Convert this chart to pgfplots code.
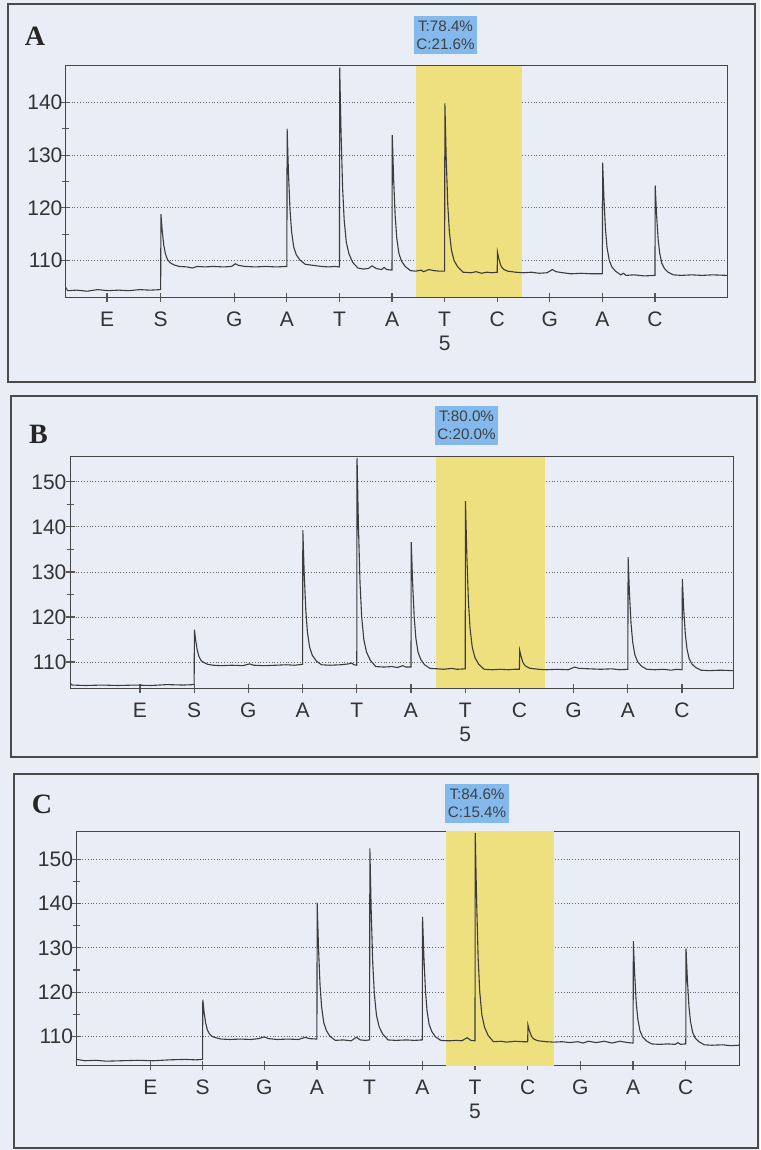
\documentclass[border=0pt]{standalone}
\usepackage{fontspec}
\setmainfont{Liberation Sans}
\newfontfamily\panelfont{Liberation Serif}
\usepackage{pgfplots}
\pgfplotsset{compat=1.18}

\definecolor{pagebg}{HTML}{E9EDF6}
\definecolor{boxline}{HTML}{4A4A4A}
\definecolor{hlyellow}{HTML}{EFE07F}
\definecolor{tagblue}{HTML}{83B9EC}
\definecolor{trace}{HTML}{3C3C3C}

\pgfplotsset{
  pyro/.style={
    scale only axis,
    axis line style={draw=gray!55!black, line width=0.5pt},
    tick align=center, xtick pos=bottom, ytick pos=left,
    major tick length=4.5pt, minor tick length=3.5pt,
    every tick/.style={draw=black!65, line width=0.6pt},
    minor y tick num=1,
    ymajorgrids, grid style={densely dotted, gray!80!black, line width=0.45pt},
    xticklabels={E,S,G,A,T,A,{T\\5},C,G,A,C},
    xticklabel style={align=center, yshift=-1.5pt},
    yticklabel style={xshift=4pt},
    tick label style={font=\fontsize{10.5}{12}\selectfont, text=black!80},
    /pgf/number format/assume math mode=true,
  },
  sig/.style={trace, line width=0.55pt, mark=none},
}

\begin{document}
\begin{tikzpicture}
\fill[pagebg] (0,0) rectangle (380pt,-575pt);
\draw[boxline, line width=1pt] (4pt,-2pt) rectangle (377.5pt,-191pt);
\draw[boxline, line width=1pt] (5.5pt,-198pt) rectangle (378.5pt,-378.5pt);
\draw[boxline, line width=1pt] (7pt,-387pt) rectangle (379pt,-574pt);

% ---------------- panel A ----------------
\begin{axis}[pyro, at={(33pt,-33pt)}, anchor=north west,
  width=330.5pt, height=115.5pt,
  xmin=-0.2, xmax=12.37, ymin=103.1, ymax=146.9,
  xtick={0.58,1.6,3,4,5,6,7,8,9,10,11},
  ytick={110,120,130,140}]
\addplot[fill=hlyellow, draw=none] coordinates {(6.46,103.1) (8.48,103.1) (8.48,146.9) (6.46,146.9)} -- cycle;
\addplot[sig] coordinates {
 (-0.2,104.9) (-0.17,104.3) (0.0,104.4) (0.2,104.2) (0.4,104.5) (0.6,104.3) (0.8,104.4) (1.0,104.3) (1.2,104.5) (1.4,104.4) (1.6,104.5)
 (1.605,118.8) (1.63,115.6) (1.66,112.9) (1.69,111.3) (1.73,110.2) (1.78,109.6) (1.85,109.2) (1.95,108.9)
 (2.1,108.8) (2.2,108.6) (2.3,108.9) (2.45,108.8) (2.6,108.9) (2.8,108.8) (2.95,108.9) (3.02,109.4) (3.08,109.1) (3.2,108.9) (3.4,108.8) (3.6,108.9) (3.8,108.8) (4.0,108.9)
 (4.005,135.0) (4.03,126.8) (4.06,119.6) (4.09,115.5) (4.13,112.6) (4.18,111.1) (4.25,110.1) (4.35,109.3)
 (4.5,109.1) (4.65,108.9) (4.8,108.8) (4.9,108.9) (5.0,108.8)
 (5.005,146.6) (5.03,134.4) (5.06,123.8) (5.09,117.7) (5.13,113.5) (5.18,111.3) (5.25,109.7) (5.35,108.6)
 (5.45,108.4) (5.55,108.5) (5.62,109.0) (5.7,108.5) (5.8,108.3) (5.85,108.7) (5.9,108.3) (6.0,108.2)
 (6.005,133.8) (6.03,125.6) (6.06,118.4) (6.09,114.3) (6.13,111.4) (6.18,109.9) (6.25,108.9) (6.35,108.1)
 (6.45,108.0) (6.55,108.2) (6.6,107.9) (6.7,108.3) (6.8,108.1) (6.9,108.0) (7.0,108.0)
 (7.005,139.8) (7.03,129.6) (7.06,120.6) (7.09,115.5) (7.13,112.0) (7.18,110.0) (7.25,108.8) (7.35,107.8)
 (7.5,107.7) (7.6,107.9) (7.7,107.6) (7.8,107.8) (7.9,107.7) (8.0,107.8)
 (8.005,111.6) (8.03,110.4) (8.06,109.3) (8.09,108.7) (8.13,108.3) (8.2,108.0) (8.35,107.8)
 (8.5,107.7) (8.65,107.8) (8.8,107.6) (8.95,107.7) (9.05,108.3) (9.12,107.9) (9.25,107.7) (9.4,107.5) (9.6,107.6) (9.8,107.5) (10.0,107.5)
 (10.005,128.6) (10.03,121.8) (10.06,115.8) (10.09,112.4) (10.13,110.1) (10.18,108.8) (10.25,108.0) (10.35,107.3)
 (10.4,107.6) (10.45,107.2) (10.6,107.3) (10.8,107.1) (11.0,107.2)
 (11.005,124.2) (11.03,118.8) (11.06,114.1) (11.09,111.4) (11.13,109.5) (11.18,108.5) (11.25,107.8) (11.35,107.3)
 (11.5,107.2) (11.7,107.3) (11.9,107.2) (12.1,107.3) (12.37,107.2)
};
\end{axis}

% ---------------- panel B ----------------
\begin{axis}[pyro, at={(35pt,-228.3pt)}, anchor=north west,
  width=331.5pt, height=115.8pt,
  xmin=-0.29, xmax=11.94, ymin=104.2, ymax=155.6,
  xtick={1,2,3,4,5,6,7,8,9,10,11},
  ytick={110,120,130,140,150}]
\addplot[fill=hlyellow, draw=none] coordinates {(6.46,104.2) (8.48,104.2) (8.48,155.6) (6.46,155.6)} -- cycle;
\addplot[sig] coordinates {
 (-0.29,105.3) (-0.25,104.9) (0,104.8) (0.3,104.9) (0.6,104.8) (0.9,104.9) (1.2,104.8) (1.5,105.0) (1.8,104.9) (2.0,105.0)
 (2.005,117.2) (2.03,114.7) (2.06,112.5) (2.09,111.2) (2.13,110.3) (2.18,109.9) (2.25,109.5) (2.35,109.3)
 (2.5,109.2) (2.7,109.3) (2.9,109.2) (3.02,109.6) (3.1,109.3) (3.3,109.2) (3.5,109.3) (3.7,109.4) (3.85,109.3) (4.0,109.5)
 (4.005,139.3) (4.03,129.7) (4.06,121.4) (4.09,116.6) (4.13,113.3) (4.18,111.5) (4.25,110.3) (4.35,109.4)
 (4.5,109.3) (4.7,109.4) (4.85,109.6) (4.9,109.8) (4.95,109.4) (5.0,109.3)
 (5.005,155.3) (5.03,140.5) (5.06,127.5) (5.09,120.1) (5.13,115.0) (5.18,112.2) (5.25,110.4) (5.35,109.0)
 (5.5,108.9) (5.65,109.0) (5.75,108.8) (5.85,109.2) (5.9,108.9) (6.0,108.9)
 (6.005,136.6) (6.03,127.6) (6.06,119.8) (6.09,115.3) (6.13,112.2) (6.18,110.6) (6.25,109.4) (6.35,108.6)
 (6.5,108.5) (6.6,108.4) (6.75,108.6) (6.85,108.4) (7.0,108.5)
 (7.005,145.7) (7.03,133.8) (7.06,123.3) (7.09,117.4) (7.13,113.3) (7.18,111.0) (7.25,109.5) (7.35,108.4)
 (7.5,108.3) (7.65,108.4) (7.8,108.3) (7.9,108.4) (8.0,108.4)
 (8.005,112.6) (8.03,111.3) (8.06,110.1) (8.09,109.4) (8.13,109.0) (8.2,108.6) (8.35,108.4)
 (8.5,108.3) (8.7,108.4) (8.9,108.3) (9.02,108.9) (9.1,108.6) (9.3,108.5) (9.5,108.4) (9.7,108.5) (9.85,108.3) (10.0,108.4)
 (10.005,133.3) (10.03,125.3) (10.06,118.4) (10.09,114.4) (10.13,111.6) (10.18,110.1) (10.25,109.1) (10.35,108.4)
 (10.5,108.3) (10.65,108.4) (10.8,108.2) (10.9,108.4) (11.0,108.3)
 (11.005,128.4) (11.03,121.9) (11.06,116.3) (11.09,113.0) (11.13,110.8) (11.18,109.6) (11.25,108.8) (11.35,108.2)
 (11.5,108.1) (11.7,108.2) (11.94,108.1)
};
\end{axis}

% ---------------- panel C ----------------
\begin{axis}[pyro, at={(38.3pt,-415.5pt)}, anchor=north west,
  width=331.2pt, height=117.3pt,
  xmin=-0.56, xmax=12.01, ymin=103.4, ymax=156.4,
  xtick={0.84,1.83,3,4,5,6,7,8,9,10,11},
  ytick={110,120,130,140,150}]
\addplot[fill=hlyellow, draw=none] coordinates {(6.45,103.4) (8.5,103.4) (8.5,156.4) (6.45,156.4)} -- cycle;
\addplot[sig] coordinates {
 (-0.56,104.8) (-0.4,104.5) (-0.2,104.6) (0,104.4) (0.3,104.5) (0.6,104.6) (0.9,104.5) (1.2,104.7) (1.5,104.8) (1.7,104.7) (1.83,104.8)
 (1.835,118.3) (1.86,115.4) (1.89,113.0) (1.92,111.5) (1.96,110.6) (2.01,110.0) (2.08,109.7) (2.18,109.4)
 (2.35,109.3) (2.55,109.4) (2.75,109.3) (2.9,109.5) (3.0,109.9) (3.08,109.5) (3.25,109.3) (3.45,109.4) (3.65,109.3) (3.78,109.8) (3.85,109.5) (4.0,109.4)
 (4.005,140.2) (4.03,130.2) (4.06,121.5) (4.09,116.6) (4.13,113.1) (4.18,111.3) (4.25,110.0) (4.35,109.1)
 (4.5,109.2) (4.65,109.0) (4.75,109.8) (4.82,109.2) (4.92,109.1) (5.0,109.2)
 (5.005,152.5) (5.03,138.6) (5.06,126.5) (5.09,119.6) (5.13,114.8) (5.18,112.2) (5.25,110.5) (5.35,109.2)
 (5.5,109.1) (5.7,109.2) (5.85,109.1) (6.0,109.2)
 (6.005,137.0) (6.03,128.1) (6.06,120.3) (6.09,115.8) (6.13,112.7) (6.18,111.1) (6.25,109.9) (6.35,109.1)
 (6.5,109.0) (6.65,109.1) (6.75,109.0) (6.85,109.7) (6.92,109.1) (7.0,109.0)
 (7.005,156.0) (7.03,140.9) (7.06,127.7) (7.09,120.1) (7.13,114.9) (7.18,112.1) (7.25,110.2) (7.35,108.8)
 (7.5,108.9) (7.6,108.7) (7.75,108.9) (7.9,108.8) (8.0,108.8)
 (8.005,112.6) (8.03,111.4) (8.06,110.3) (8.09,109.7) (8.13,109.3) (8.2,109.0) (8.35,108.8)
 (8.5,108.7) (8.65,108.8) (8.8,108.6) (8.95,108.8) (9.05,108.5) (9.15,108.9) (9.3,108.6) (9.45,108.9) (9.6,108.5) (9.75,108.9) (9.9,108.6) (10.0,108.5)
 (10.005,131.5) (10.03,124.1) (10.06,117.6) (10.09,113.9) (10.13,111.3) (10.18,109.9) (10.25,109.0) (10.35,108.3)
 (10.5,108.2) (10.65,108.3) (10.8,108.2) (10.85,108.6) (10.9,108.2) (11.0,108.3)
 (11.005,129.8) (11.03,122.9) (11.06,116.8) (11.09,113.3) (11.13,110.9) (11.18,109.6) (11.25,108.8) (11.35,108.1)
 (11.5,108.0) (11.7,108.1) (11.85,107.9) (12.01,108.0)
};
\end{axis}

% panel letters and allele tags
\node[font=\panelfont\bfseries\fontsize{14}{16}\selectfont, text=black!85] at (17.5pt,-18.25pt) {A};
\node[font=\panelfont\bfseries\fontsize{14}{16}\selectfont, text=black!85] at (19.25pt,-217pt) {B};
\node[font=\panelfont\bfseries\fontsize{14}{16}\selectfont, text=black!85] at (21pt,-402pt) {C};
\tikzset{tag/.style={fill=tagblue, inner xsep=1.2pt, inner ysep=2.4pt, align=center,
  font=\fontsize{7.6}{9.2}\selectfont, text=black!75}}
\node[tag] at (222.75pt,-17.5pt) {T:78.4\%\\C:21.6\%};
\node[tag] at (233.25pt,-212.75pt) {T:80.0\%\\C:20.0\%};
\node[tag] at (238.5pt,-401.75pt) {T:84.6\%\\C:15.4\%};
\end{tikzpicture}
\end{document}
